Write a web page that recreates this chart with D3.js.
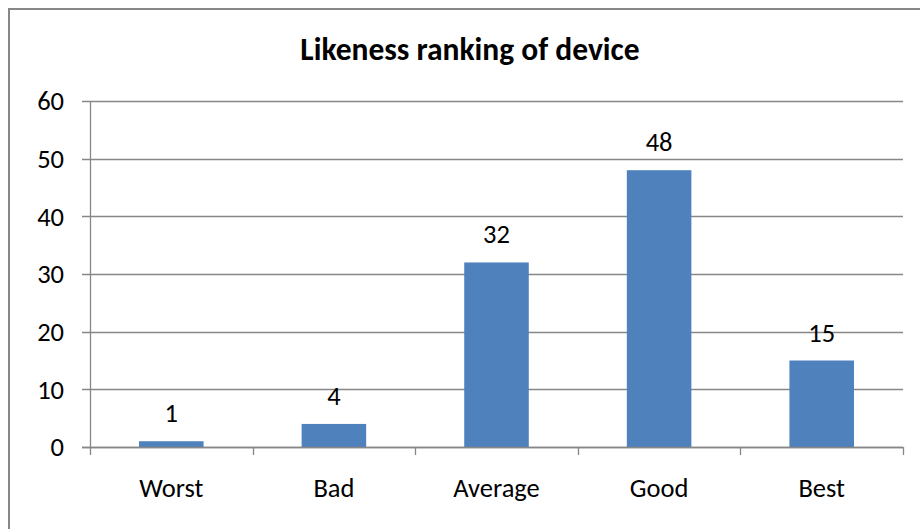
<!DOCTYPE html>
<html>
<head>
<meta charset="utf-8">
<script src="https://cdn.jsdelivr.net/npm/d3@7"></script>
<style>
  html, body { margin: 0; padding: 0; background: #fff; }
  svg { display: block; }
  text { font-family: Carlito, Calibri, "Open Sans", sans-serif; fill: #000; }
</style>
</head>
<body>
<svg id="chart" width="920" height="529"></svg>
<script>
const categories = ["Worst", "Bad", "Average", "Good", "Best"];
const values = [1, 4, 32, 48, 15];
const yTicks = [0, 10, 20, 30, 40, 50, 60];
const title = "Likeness ranking of device";

const svg = d3.select("#chart");
const W = 920, H = 529;
const plot = { left: 90, right: 903, top: 101, bottom: 447 };
const gray = "#878787";
const barColor = "#4F81BD";
const labelSize = 26.5;

// outer frame (top and left visible)
svg.append("rect")
  .attr("x", 9).attr("y", 9)
  .attr("width", W + 20).attr("height", H + 20)
  .attr("fill", "none").attr("stroke", gray).attr("stroke-width", 2);

const x = d3.scaleBand()
  .domain(categories)
  .range([plot.left, plot.right])
  .paddingInner(0.603)
  .paddingOuter(0.3015);

const y = d3.scaleLinear().domain([0, 60]).range([plot.bottom, plot.top]);

// gridlines
svg.append("g").selectAll("line").data(yTicks).join("line")
  .attr("x1", plot.left - 8).attr("x2", plot.right)
  .attr("y1", d => Math.round(y(d)) + 0.5).attr("y2", d => Math.round(y(d)) + 0.5)
  .attr("stroke", gray).attr("stroke-width", 1.3);

// y axis line
svg.append("line")
  .attr("x1", plot.left + 0.5).attr("x2", plot.left + 0.5)
  .attr("y1", plot.top).attr("y2", plot.bottom)
  .attr("stroke", gray).attr("stroke-width", 1.3);

// y tick labels
svg.append("g").selectAll("text").data(yTicks).join("text")
  .attr("x", 64).attr("y", d => y(d))
  .attr("dy", "0.35em")
  .attr("text-anchor", "end")
  .attr("font-size", labelSize)
  .text(d => d);

// x category boundary ticks
const step = x.step();
const bounds = d3.range(categories.length + 1).map(i => plot.left + i * step);
svg.append("g").selectAll("line").data(bounds).join("line")
  .attr("x1", d => Math.round(d) + 0.5).attr("x2", d => Math.round(d) + 0.5)
  .attr("y1", plot.bottom).attr("y2", plot.bottom + 8)
  .attr("stroke", gray).attr("stroke-width", 1.3);

// bars
svg.append("g").selectAll("rect").data(values).join("rect")
  .attr("x", (d, i) => x(categories[i]))
  .attr("y", d => y(d))
  .attr("width", x.bandwidth())
  .attr("height", d => y(0) - y(d))
  .attr("fill", barColor);

// redraw zero line over bars
svg.append("line")
  .attr("x1", plot.left - 8).attr("x2", plot.right)
  .attr("y1", Math.round(y(0)) + 0.5).attr("y2", Math.round(y(0)) + 0.5)
  .attr("stroke", gray).attr("stroke-width", 1.3);

// data labels
svg.append("g").selectAll("text").data(values).join("text")
  .attr("x", (d, i) => x(categories[i]) + x.bandwidth() / 2)
  .attr("y", d => y(d) - 19)
  .attr("text-anchor", "middle")
  .attr("font-size", labelSize)
  .text(d => d);

// category labels
svg.append("g").selectAll("text").data(categories).join("text")
  .attr("x", d => x(d) + x.bandwidth() / 2)
  .attr("y", 497)
  .attr("text-anchor", "middle")
  .attr("font-size", labelSize)
  .text(d => d);

// title
svg.append("text")
  .attr("x", 470).attr("y", 60)
  .attr("text-anchor", "middle")
  .attr("font-size", 31.5)
  .attr("font-weight", "bold")
  .text(title);
</script>
</body>
</html>
